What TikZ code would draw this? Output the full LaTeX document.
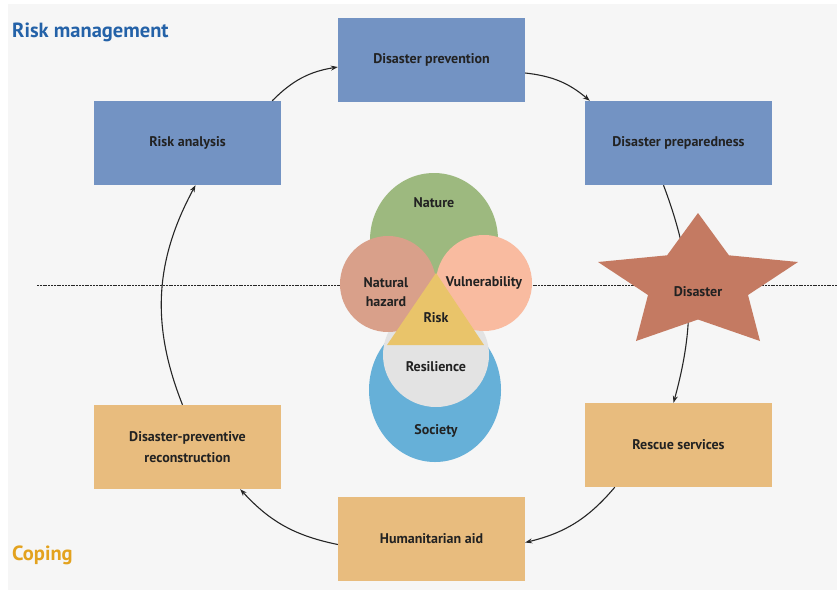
\documentclass[tikz,border=0pt]{standalone}
\usepackage{fontspec}
\setmainfont{PT Sans}
\usetikzlibrary{arrows.meta}
\definecolor{pagegrey}{HTML}{F6F6F6}
\definecolor{riskblue}{HTML}{7393C3}
\definecolor{copeorange}{HTML}{E8BC7E}
\definecolor{titleblue}{HTML}{2462A8}
\definecolor{titleorange}{HTML}{E3A21E}
\definecolor{txt}{HTML}{222222}
\definecolor{naturegreen}{HTML}{9DB97F}
\definecolor{hazardbrown}{HTML}{D9A08A}
\definecolor{vulnpink}{HTML}{F9BBA0}
\definecolor{societyblue}{HTML}{66B0D8}
\definecolor{resgrey}{HTML}{E3E3E3}
\definecolor{riskyellow}{HTML}{E9C46A}
\definecolor{starred}{HTML}{C47A62}
\tikzset{
  phase/.style={minimum width=187pt, minimum height=84pt, inner sep=0pt,
    font=\bfseries\fontsize{14}{21}\selectfont, text=txt, align=center},
  riskbox/.style={phase, fill=riskblue},
  copebox/.style={phase, fill=copeorange},
  cyc/.style={-{Stealth[length=7pt,width=5pt]}, line width=1.1pt, draw=black!85},
  lbl/.style={font=\bfseries\fontsize{14}{19}\selectfont, text=txt, align=center, inner sep=0pt},
  heading/.style={font=\bfseries\fontsize{20.5}{24}\selectfont, anchor=west, inner sep=0pt}
}
\begin{document}
\begin{tikzpicture}[x=1pt,y=-1pt]
\useasboundingbox (0,0) rectangle (837,590);
\fill[pagegrey] (8,4) rectangle (837,590);

% headings
\node[heading, text=titleblue] (hrm) at (12,32) {Risk management};
\node[heading, text=titleorange] (hcp) at (12,555) {Coping};

% divider between risk management and coping
\coordinate (divl) at (37,285);
\coordinate (divr) at (837,285);
\draw[gray!30!black, line width=1pt, dash pattern=on 2pt off 0.8pt] (divl) -- (divr);

% cycle phases
\node[riskbox] (dp)  at (431.5,60)  {Disaster prevention};
\node[riskbox] (ra)  at (187.5,143) {Risk analysis};
\node[riskbox] (dpp) at (678.5,143) {Disaster preparedness};
\node[copebox] (dpr) at (187.5,447) {Disaster-preventive\\reconstruction};
\node[copebox] (rs)  at (678.5,445) {Rescue services};
\node[copebox] (ha)  at (431.5,538.5) {Humanitarian aid};

% cycle arrows
\draw[cyc] ([xshift=-9pt]ra.north east) to[bend left=18] ([yshift=-7pt]dp.west);
\draw[cyc] ([yshift=-13pt]dp.east) to[bend left=17] ([xshift=5pt]dpp.north west);
\draw[cyc] ([xshift=-15pt]dpp.south) to[bend left=18] ([xshift=-5pt]rs.north);
\draw[cyc] ([xshift=30pt]rs.south west) to[bend left=18] ([yshift=-4pt]ha.east);
\draw[cyc] ([yshift=-6pt]ha.west) to[bend left=18] ([xshift=-41pt]dpr.south east);
\draw[cyc] ([xshift=-5pt]dpr.north) to[bend left=25] ([xshift=8pt]ra.south);

% disaster star
\fill[starred] (698,213) -- (728.9,255.3) -- (798,262) -- (748,295) -- (760,341)
  -- (698,319.5) -- (636,341) -- (648,295) -- (598,262) -- (667.1,255.3) -- cycle;
\node[lbl] (dis) at (698,292) {Disaster};

% risk concept in the centre
\fill[naturegreen] (434,240) ellipse [x radius=64, y radius=67];
\fill[societyblue] (435,390) ellipse [x radius=66, y radius=72];
\fill[resgrey] (436,355) ellipse [x radius=53, y radius=52];
\fill[hazardbrown] (388,284) circle [radius=48];
\fill[vulnpink] (484,283) circle [radius=48];
\fill[riskyellow] (436,273) -- (484,345) -- (387,345) -- cycle;

\node[lbl] (nat) at (434,203) {Nature};
\node[lbl] (haz) at (386,292) {Natural\\hazard};
\node[lbl] (vul) at (484,283) {Vulnerability};
\node[lbl] (rsk) at (436,318) {Risk};
\node[lbl] (res) at (436,367) {Resilience};
\node[lbl] (soc) at (436,431) {Society};
\end{tikzpicture}
\end{document}
